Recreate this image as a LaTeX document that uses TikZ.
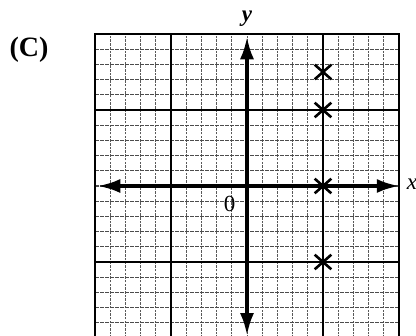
\documentclass[tikz,border=0pt]{standalone}
\usepackage{fontspec}
\setmainfont{Liberation Serif}
\usetikzlibrary{arrows.meta,shapes.misc}
\begin{document}
\begin{tikzpicture}[x=1pt,y=1pt,
  minorv/.style={black!65,line width=1pt,dash pattern=on 2.5pt off 1.2pt},
  minorh/.style={black!70,line width=1.1pt,dash pattern=on 4pt off 1pt},
  major/.style={black,line width=2pt},
  axis/.style={black,line width=4pt,{Latex[length=23pt,width=14pt]}-{Latex[length=23pt,width=14pt]}},
  xmark/.style={cross out,draw,black,line width=2.6pt,minimum width=14pt,minimum height=12pt,inner sep=0pt},
  lbl/.style={font=\fontsize{23}{25}\selectfont,inner sep=0pt}]
\useasboundingbox (0,0) rectangle (416,336);
\node[font=\fontsize{28}{30}\selectfont\bfseries,inner sep=0pt] (tag) at (29,286) {(C)};
\begin{scope}[shift={(247,150)},x=76pt,y=76pt]
  \begin{scope}
    \clip (-2.05,-1.975) rectangle (2.05,2.05);
    \foreach \i in {-9,...,9} {\draw[minorv] (\i/5,-2) -- (\i/5,2);}
    \foreach \j in {-9,...,9} {\draw[minorh] (-2,\j/5) -- (2,\j/5);}
    \foreach \i in {-1,1} {\draw[major] (\i,-2) -- (\i,2);}
    \foreach \j in {-1,1} {\draw[major] (-2,\j) -- (2,\j);}
    \draw[major] (-2,-2) rectangle (2,2);
  \end{scope}
  \coordinate (xl) at (-1.97,0);
  \coordinate (xr) at (2.01,0);
  \coordinate (yt) at (0,1.97);
  \coordinate (yb) at (0,-1.975);
  \draw[axis] (xl) -- (xr);
  \draw[axis] (yt) -- (yb);
  \node[xmark] (p1) at (1,1.5) {};
  \node[xmark] (p2) at (1,1) {};
  \node[xmark] (p3) at (1,0) {};
  \node[xmark] (p4) at (1,-1) {};
  \node[lbl,font=\fontsize{23}{25}\selectfont\bfseries\itshape] (ylab) at (0,2.2) {y};
  \node[lbl,font=\fontsize{23}{25}\selectfont\itshape] (xlab) at (2.17,0.02) {x};
  \node[lbl] (zero) at (-0.23,-0.23) {0};
\end{scope}
\end{tikzpicture}
\end{document}
